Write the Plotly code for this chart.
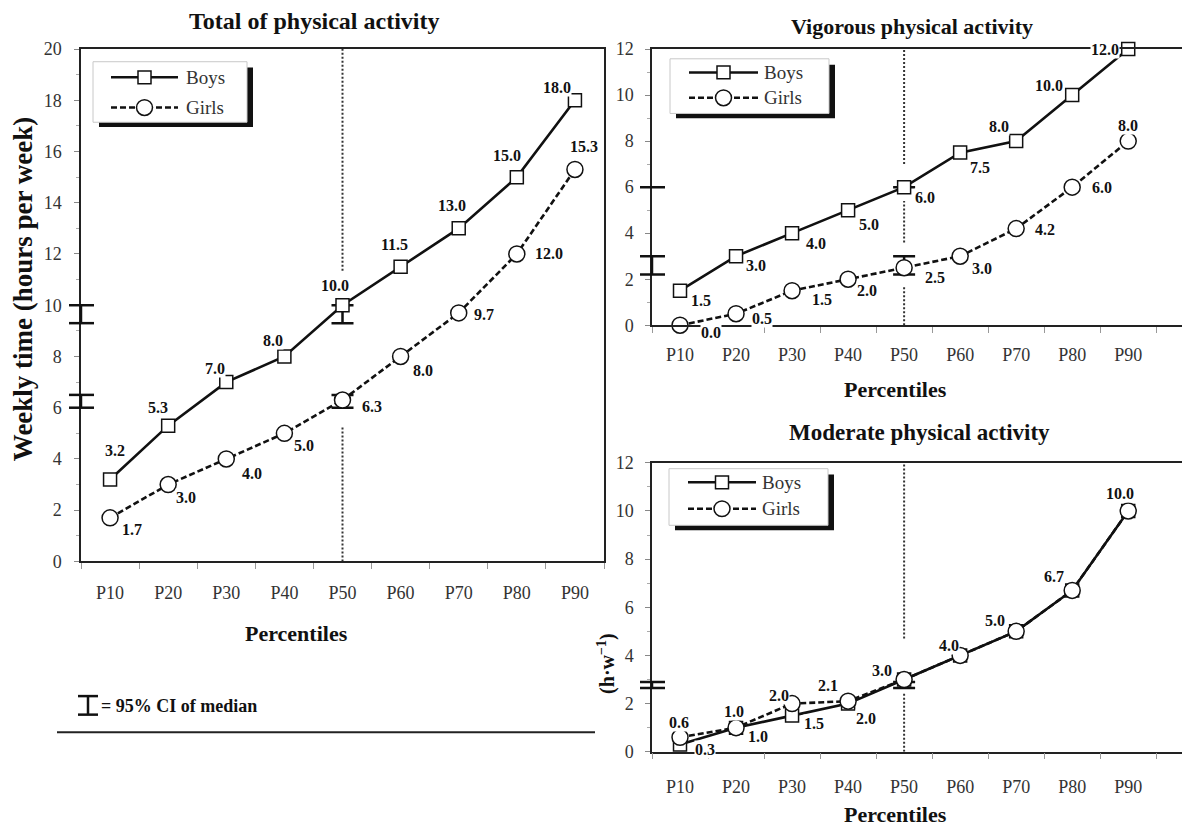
import plotly.graph_objects as go

W, H = 1182, 832
SERIF = "Liberation Serif"

# ---------------- data ----------------
categories = ["P10", "P20", "P30", "P40", "P50", "P60", "P70", "P80", "P90"]

total_boys = [3.2, 5.3, 7.0, 8.0, 10.0, 11.5, 13.0, 15.0, 18.0]
total_girls = [1.7, 3.0, 4.0, 5.0, 6.3, 8.0, 9.7, 12.0, 15.3]

vig_boys = [1.5, 3.0, 4.0, 5.0, 6.0, 7.5, 8.0, 10.0, 12.0]
vig_girls = [0.0, 0.5, 1.5, 2.0, 2.5, 3.0, 4.2, 6.0, 8.0]

mod_boys = [0.3, 1.0, 1.5, 2.0, 3.0, 4.0, 5.0, 6.7, 10.0]
mod_girls = [0.6, 1.0, 2.0, 2.1, 3.0, 4.0, 5.0, 6.7, 10.0]

# 95% CI of the median (P50)
total_ci_low = [9.3, 6.0]
total_ci_high = [10.0, 6.5]
vig_ci_low = [6.0, 2.2]
vig_ci_high = [6.0, 3.0]
mod_ci_low = [2.65]
mod_ci_high = [2.9]

# which boys labels are printed in the moderate panel (others coincide with girls)
mod_boys_show = [True, True, True, True, False, False, False, False, False]

# label offsets (px, right / down) -- styling only
total_boys_off = [(5, -29), (-10, -18), (-11, -14), (-11, -16), (-8, -20), (-6, -22), (-7, -23), (-10, -22), (-18, -13)]
total_girls_off = [(22, 12), (18, 13), (26, 15), (20, 12), (29, 6), (22, 14), (25, 2), (32, 0), (9, -23)]
vig_boys_off = [(21, 10), (20, 9), (24, 10), (21, 14), (21, 10), (20, 15), (-17, -15), (-23, -10), (-23, 0)]
vig_girls_off = [(31, 7), (26, 5), (30, 9), (19, 11), (31, 10), (22, 12), (29, 1), (30, 0), (0, -16)]
mod_boys_off = [(25, 5), (22, 9), (22, 8), (18, 15), (0, 0), (0, 0), (0, 0), (0, 0), (0, 0)]
mod_girls_off = [(-1, -15), (-2, -16), (-13, -8), (-20, -16), (-22, -9), (-11, -10), (-21, -11), (-18, -14), (-8, -17)]

idx = list(range(len(categories)))
p50 = categories.index("P50")


def fx(p):
    return p / W


def fy(p):
    return 1 - p / H


fig = go.Figure()
shapes = []
annotations = []

# panel geometry in px: (left, right, top, bottom)
panels = {
    "total": dict(xa="x", ya="y", box=(81, 604, 40, 565), xr=[-0.5, 8.5], yr=[0, 20],
                  mirror_y=True, ystand=9, xstand=14),
    "vig": dict(xa="x2", ya="y2", box=(652, W, 40, 323), xr=[-0.5, 8.96], yr=[0, 12],
                mirror_y=False, ystand=8, xstand=12),
    "mod": dict(xa="x3", ya="y3", box=(652, W, 464, 760), xr=[-0.5, 8.96], yr=[0, 12],
                mirror_y=False, ystand=8, xstand=18),
}

tickfont = dict(family=SERIF, size=18, color="#333")
layout_axes = {}
for n, (key, p) in enumerate(panels.items(), start=1):
    l, r, t, b = p["box"]
    sx = "" if n == 1 else str(n)
    layout_axes["xaxis" + sx] = dict(
        domain=[fx(l), fx(r)], range=p["xr"], anchor="y" + sx,
        tickmode="array", tickvals=idx, ticktext=categories, ticks="",
        showline=True, linecolor="#222", linewidth=1.5, mirror=True,
        showgrid=False, zeroline=False, tickfont=tickfont, ticklabelstandoff=p["xstand"],
        minor=dict(tickmode="array", tickvals=[i - 0.5 for i in range(len(categories) + 1)],
                   ticks="outside", ticklen=6, tickcolor="#999", tickwidth=1, showgrid=False),
        fixedrange=True,
    )
    layout_axes["yaxis" + sx] = dict(
        domain=[fy(b), fy(t)], range=p["yr"], anchor="x" + sx, dtick=2,
        ticks="outside", ticklen=5, tickcolor="#888", tickwidth=1,
        showline=True, linecolor="#222", linewidth=1.5, mirror=p["mirror_y"],
        showgrid=False, zeroline=False, tickfont=tickfont, ticklabelstandoff=p["ystand"],
        minor=dict(dtick=1, ticks="outside", ticklen=3, tickcolor="#aaa", showgrid=False),
        fixedrange=True,
    )


def add_series(p, boys, girls, boys_off, girls_off, ci_low, ci_high, boys_show=None):
    xa, ya = p["xa"], p["ya"]
    # CI error bars at the median
    for lo, hi in zip(ci_low, ci_high):
        fig.add_trace(go.Scatter(
            x=[p50], y=[hi], xaxis=xa, yaxis=ya, mode="markers",
            marker=dict(size=1, opacity=0),
            error_y=dict(type="data", symmetric=False, array=[0], arrayminus=[hi - lo],
                         width=11, thickness=2.5, color="#111"),
            showlegend=False, hoverinfo="skip"))
    fig.add_trace(go.Scatter(
        x=idx, y=boys, xaxis=xa, yaxis=ya, mode="lines+markers", name="Boys",
        line=dict(color="#111", width=2.6),
        marker=dict(symbol="square", size=13, color="white", line=dict(color="#111", width=1.5)),
        showlegend=False, cliponaxis=False))
    fig.add_trace(go.Scatter(
        x=idx, y=girls, xaxis=xa, yaxis=ya, mode="lines+markers", name="Girls",
        line=dict(color="#111", width=2.6, dash="6px,3px"),
        marker=dict(symbol="circle", size=16, color="white", line=dict(color="#111", width=1.5)),
        showlegend=False, cliponaxis=False))
    for series, offs, show in ((boys, boys_off, boys_show), (girls, girls_off, None)):
        for i, v in enumerate(series):
            if show is not None and not show[i]:
                continue
            dx, dy = offs[i]
            annotations.append(dict(
                x=i, y=v, xref=xa, yref=ya, text=f"{v:.1f}", showarrow=False,
                xshift=dx, yshift=-dy, bgcolor="white", borderpad=0,
                font=dict(family=SERIF, size=16, color="#111", weight="bold")))
    # CI markers on the y axis
    l = p["box"][0]
    for lo, hi in zip(ci_low, ci_high):
        for yv in sorted({lo, hi}):
            shapes.append(dict(type="line", xref="paper", yref=ya, x0=fx(l - 12), x1=fx(l + 13),
                               y0=yv, y1=yv, line=dict(color="#111", width=2.5)))
        if hi != lo:
            shapes.append(dict(type="line", xref="paper", yref=ya, x0=fx(l), x1=fx(l),
                               y0=lo, y1=hi, line=dict(color="#111", width=2.5)))


add_series(panels["total"], total_boys, total_girls, total_boys_off, total_girls_off,
           total_ci_low, total_ci_high)
add_series(panels["vig"], vig_boys, vig_girls, vig_boys_off, vig_girls_off,
           vig_ci_low, vig_ci_high)
add_series(panels["mod"], mod_boys, mod_girls, mod_boys_off, mod_girls_off,
           mod_ci_low, mod_ci_high, boys_show=mod_boys_show)

# dotted median reference lines (segments between labels)
median_segments = {
    "total": [(11.35, 20), (0, 5.3)],
    "vig": [(7.0, 12), (3.6, 5.4), (0, 1.65)],
    "mod": [(4.7, 12), (0, 2.45)],
}
for key, segs in median_segments.items():
    p = panels[key]
    for y0, y1 in segs:
        shapes.append(dict(type="line", xref=p["xa"], yref=p["ya"], x0=p50, x1=p50,
                           y0=y0, y1=y1, layer="below",
                           line=dict(color="#333", width=2, dash="2px,2px")))


# manual legends
def add_legend(box, rows, line_x, text_x):
    x0, y0, x1, y1 = box
    shapes.append(dict(type="rect", xref="paper", yref="paper",
                       x0=fx(x0 + 6), x1=fx(x1 + 6), y0=fy(y0 + 6), y1=fy(y1 + 5),
                       fillcolor="#111", line=dict(width=0)))
    shapes.append(dict(type="rect", xref="paper", yref="paper",
                       x0=fx(x0), x1=fx(x1), y0=fy(y0), y1=fy(y1),
                       fillcolor="white", line=dict(color="#c8c8c8", width=1)))
    for (label, ry, dash, sym) in rows:
        shapes.append(dict(type="line", xref="paper", yref="paper",
                           x0=fx(line_x[0]), x1=fx(line_x[1]), y0=fy(ry), y1=fy(ry),
                           line=dict(color="#111", width=2.5, dash=dash)))
        cx = (line_x[0] + line_x[1]) / 2
        r = 6.5 if sym == "rect" else 8
        shapes.append(dict(type=sym, xref="paper", yref="paper",
                           x0=fx(cx - r), x1=fx(cx + r), y0=fy(ry - r), y1=fy(ry + r),
                           fillcolor="white", line=dict(color="#111", width=1.5)))
        annotations.append(dict(x=fx(text_x), y=fy(ry), xref="paper", yref="paper",
                                xanchor="left", yanchor="middle", text=label, showarrow=False,
                                font=dict(family=SERIF, size=19, color="#333")))


add_legend((93, 53, 247, 115), [("Boys", 69, "solid", "rect"), ("Girls", 100, "6px,3px", "circle")],
           (111, 178), 184)
add_legend((670, 50, 829, 106), [("Boys", 64, "solid", "rect"), ("Girls", 90, "6px,3px", "circle")],
           (689, 758), 762)
add_legend((669, 470, 828, 528), [("Boys", 484, "solid", "rect"), ("Girls", 511, "6px,3px", "circle")],
           (688, 756), 760)


# titles
def txt(x, y, s, size, bold=True, angle=0, color="#111"):
    annotations.append(dict(x=fx(x), y=fy(y), xref="paper", yref="paper", text=s,
                            showarrow=False, xanchor="center", yanchor="middle", textangle=angle,
                            font=dict(family=SERIF, size=size, color=color,
                                      weight="bold" if bold else "normal")))


txt(314, 11, "Total of physical activity", 24)
txt(912, 17, "Vigorous physical activity", 22)
txt(919, 433, "Moderate physical activity", 23)
txt(296, 639, "Percentiles", 22)
txt(895, 389, "Percentiles", 22)
txt(895, 824, "Percentiles", 22)
txt(23, 286, "Weekly time (hours per week)", 27, angle=-90)
txt(607, 670, "(h·w<sup>−1</sup>)", 20, angle=-90)

# CI key
for yk in (703, 722):
    shapes.append(dict(type="line", xref="paper", yref="paper", x0=fx(78), x1=fx(98), y0=fy(yk), y1=fy(yk),
                       line=dict(color="#111", width=2.5)))
shapes.append(dict(type="line", xref="paper", yref="paper", x0=fx(88), x1=fx(88), y0=fy(703), y1=fy(722),
                   line=dict(color="#111", width=2.5)))
annotations.append(dict(x=fx(99), y=fy(713), xref="paper", yref="paper", xanchor="left", yanchor="middle",
                        text="= 95% CI of median", showarrow=False,
                        font=dict(family=SERIF, size=18, color="#111", weight="bold")))
shapes.append(dict(type="line", xref="paper", yref="paper", x0=fx(57), x1=fx(595), y0=fy(740), y1=fy(740),
                   line=dict(color="#222", width=2)))

fig.update_layout(
    width=W, height=H, margin=dict(l=0, r=0, t=0, b=0),
    paper_bgcolor="white", plot_bgcolor="white",
    showlegend=False, shapes=shapes, annotations=annotations,
    font=dict(family=SERIF),
    **layout_axes,
)

fig.write_html("out.html", config={"displayModeBar": False},
               post_script="document.body.style.margin='0px';document.body.style.overflow='hidden';")
